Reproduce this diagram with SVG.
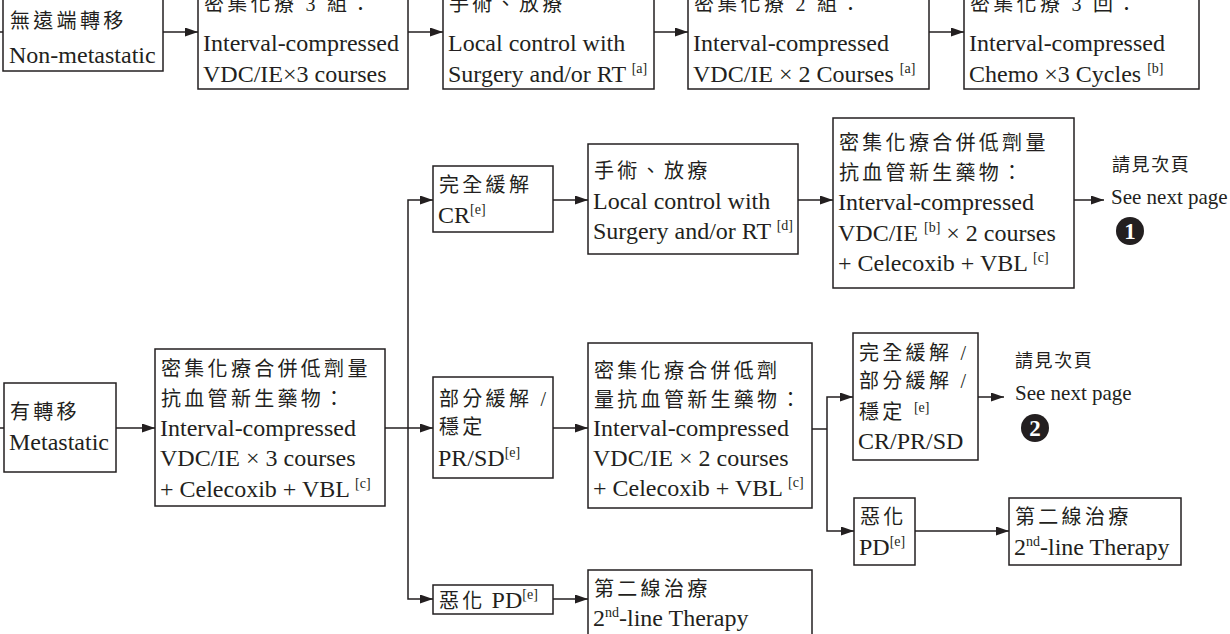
<svg xmlns="http://www.w3.org/2000/svg" width="1230" height="634" viewBox="0 0 1230 634">
  <style>
    .box { fill: #ffffff; stroke: #231f20; stroke-width: 1.5; }
    .ln { fill: none; stroke: #231f20; stroke-width: 1.5; }
    .arr { fill: none; stroke: #231f20; stroke-width: 1.5; marker-end: url(#head); }
    .t { font-family: "Liberation Serif", "Noto Sans CJK TC", serif; font-size: 24px; fill: #231f20; }
    .c { font-family: "Liberation Serif", "Noto Sans CJK TC", serif; font-size: 20px; letter-spacing: 3.3px; fill: #231f20; }
    .sup { font-size: 14px; }
    .nxt { font-family: "Liberation Serif", "Noto Sans CJK TC", serif; font-size: 21px; fill: #231f20; }
    .nxc { font-family: "Liberation Serif", "Noto Sans CJK TC", serif; font-size: 18px; letter-spacing: 1.6px; fill: #231f20; }
    .num { font-family: "Liberation Serif", serif; font-size: 23px; font-weight: bold; fill: #ffffff; text-anchor: middle; }
  </style>
  <defs>
    <marker id="head" markerWidth="13" markerHeight="9" refX="13" refY="4.5" orient="auto" markerUnits="userSpaceOnUse">
      <path d="M0,0 L13,4.5 L0,9 Z" fill="#231f20"/>
    </marker>
  </defs>

  <rect width="1230" height="634" fill="#ffffff"/>

  <!-- connectors -->
  <g id="connectors">
    <!-- non-metastatic row -->
    <line class="ln" x1="0" y1="32" x2="3" y2="32"/>
    <line class="arr" x1="163" y1="32" x2="198" y2="32"/>
    <line class="arr" x1="408" y1="32" x2="443" y2="32"/>
    <line class="arr" x1="654" y1="32" x2="688" y2="32"/>
    <line class="arr" x1="929" y1="32" x2="964" y2="32"/>

    <!-- metastatic trunk -->
    <line class="ln" x1="0" y1="428" x2="4" y2="428"/>
    <line class="arr" x1="116" y1="428" x2="155" y2="428"/>
    <line class="arr" x1="385" y1="428" x2="433" y2="428"/>
    <polyline class="arr" points="408,428 408,200 433,200"/>
    <polyline class="arr" points="408,428 408,599 433,599"/>

    <!-- CR branch -->
    <line class="arr" x1="553" y1="200" x2="588" y2="200"/>
    <line class="arr" x1="798" y1="200" x2="833" y2="200"/>
    <line class="arr" x1="1074" y1="200" x2="1104" y2="200"/>

    <!-- PR/SD branch -->
    <line class="arr" x1="553" y1="428" x2="588" y2="428"/>
    <line class="ln" x1="812" y1="429" x2="827" y2="429"/>
    <polyline class="arr" points="827,429 827,397 853,397"/>
    <polyline class="arr" points="827,429 827,531 854,531"/>
    <line class="arr" x1="978" y1="397" x2="1004" y2="397"/>
    <line class="arr" x1="915" y1="531" x2="1009" y2="531"/>

    <!-- PD branch -->
    <line class="arr" x1="553" y1="599" x2="588" y2="599"/>
  </g>

  <!-- non-metastatic row -->
  <g id="nonmeta">
    <rect class="box" x="3" y="-20" width="160" height="91"/>
    <text class="c" x="10" y="28">無遠端轉移</text>
    <text class="t" x="9" y="63">Non-metastatic</text>
  </g>
  <g id="chemo3">
    <rect class="box" x="198" y="-20" width="210" height="109"/>
    <text class="c" x="204" y="11">密集化療 3 組：</text>
    <text class="t" x="203" y="51">Interval-compressed</text>
    <text class="t" x="203" y="82">VDC/IE×3 courses</text>
  </g>
  <g id="local1">
    <rect class="box" x="443" y="-20" width="211" height="109"/>
    <text class="c" x="449" y="11">手術、放療</text>
    <text class="t" x="448" y="51">Local control with</text>
    <text class="t" x="448" y="82">Surgery and/or RT <tspan class="sup" dy="-9">[a]</tspan></text>
  </g>
  <g id="chemo2">
    <rect class="box" x="688" y="-20" width="241" height="109"/>
    <text class="c" x="694" y="11">密集化療 2 組：</text>
    <text class="t" x="693" y="51">Interval-compressed</text>
    <text class="t" x="693" y="82">VDC/IE × 2 Courses <tspan class="sup" dy="-9">[a]</tspan></text>
  </g>
  <g id="chemo3cycles">
    <rect class="box" x="964" y="-20" width="235" height="109"/>
    <text class="c" x="970" y="11">密集化療 3 回：</text>
    <text class="t" x="969" y="51">Interval-compressed</text>
    <text class="t" x="969" y="82">Chemo ×3 Cycles <tspan class="sup" dy="-9">[b]</tspan></text>
  </g>

  <!-- metastatic -->
  <g id="meta">
    <rect class="box" x="4" y="383" width="112" height="89"/>
    <text class="c" x="10" y="419">有轉移</text>
    <text class="t" x="9" y="450">Metastatic</text>
  </g>
  <g id="metachemo">
    <rect class="box" x="155" y="349" width="230" height="157"/>
    <text class="c" x="161" y="376">密集化療合併低劑量</text>
    <text class="c" x="161" y="406">抗血管新生藥物：</text>
    <text class="t" x="160" y="436">Interval-compressed</text>
    <text class="t" x="160" y="466">VDC/IE × 3 courses</text>
    <text class="t" x="160" y="497">+ Celecoxib + VBL <tspan class="sup" dy="-9">[c]</tspan></text>
  </g>

  <!-- complete response -->
  <g id="cr">
    <rect class="box" x="433" y="166" width="120" height="66"/>
    <text class="c" x="439" y="192">完全緩解</text>
    <text class="t" x="438" y="223">CR<tspan class="sup" dy="-9">[e]</tspan></text>
  </g>
  <g id="local2">
    <rect class="box" x="588" y="144" width="210" height="110"/>
    <text class="c" x="594" y="178">手術、放療</text>
    <text class="t" x="593" y="209">Local control with</text>
    <text class="t" x="593" y="239">Surgery and/or RT <tspan class="sup" dy="-9">[d]</tspan></text>
  </g>
  <g id="crchemo">
    <rect class="box" x="833" y="118" width="241" height="170"/>
    <text class="c" x="839" y="150">密集化療合併低劑量</text>
    <text class="c" x="839" y="180">抗血管新生藥物：</text>
    <text class="t" x="838" y="210">Interval-compressed</text>
    <text class="t" x="838" y="241">VDC/IE <tspan class="sup" dy="-9">[b]</tspan><tspan dy="9"> × 2 courses</tspan></text>
    <text class="t" x="838" y="271">+ Celecoxib + VBL <tspan class="sup" dy="-9">[c]</tspan></text>
  </g>
  <g id="next1">
    <text class="nxc" x="1112" y="171">請見次頁</text>
    <text class="nxt" x="1111" y="204">See next page</text>
    <circle cx="1130" cy="231" r="14" fill="#231f20"/>
    <text class="num" x="1130" y="239">1</text>
  </g>

  <!-- partial response / stable -->
  <g id="prsd">
    <rect class="box" x="433" y="377" width="120" height="101"/>
    <text class="c" x="439" y="406">部分緩解 /</text>
    <text class="c" x="439" y="434">穩定</text>
    <text class="t" x="438" y="466">PR/SD<tspan class="sup" dy="-9">[e]</tspan></text>
  </g>
  <g id="prsdchemo">
    <rect class="box" x="588" y="343" width="224" height="165"/>
    <text class="c" x="594" y="378">密集化療合併低劑</text>
    <text class="c" x="594" y="407">量抗血管新生藥物：</text>
    <text class="t" x="593" y="436">Interval-compressed</text>
    <text class="t" x="593" y="466">VDC/IE × 2 courses</text>
    <text class="t" x="593" y="496">+ Celecoxib + VBL <tspan class="sup" dy="-9">[c]</tspan></text>
  </g>
  <g id="crprsd">
    <rect class="box" x="853" y="333" width="125" height="127"/>
    <text class="c" x="859" y="360">完全緩解 /</text>
    <text class="c" x="859" y="388">部分緩解 /</text>
    <text class="c" x="859" y="419">穩定 <tspan class="sup" dy="-7" style="letter-spacing:0">[e]</tspan></text>
    <text class="t" x="858" y="449">CR/PR/SD</text>
  </g>
  <g id="next2">
    <text class="nxc" x="1015" y="367">請見次頁</text>
    <text class="nxt" x="1015" y="400">See next page</text>
    <circle cx="1035" cy="428" r="14" fill="#231f20"/>
    <text class="num" x="1035" y="436">2</text>
  </g>
  <g id="pd2">
    <rect class="box" x="854" y="498" width="61" height="67"/>
    <text class="c" x="860" y="524">惡化</text>
    <text class="t" x="859" y="555">PD<tspan class="sup" dy="-9">[e]</tspan></text>
  </g>
  <g id="second2">
    <rect class="box" x="1009" y="498" width="172" height="67"/>
    <text class="c" x="1015" y="524">第二線治療</text>
    <text class="t" x="1014" y="555">2<tspan class="sup" dy="-9">nd</tspan><tspan dy="9">-line Therapy</tspan></text>
  </g>

  <!-- progressive disease -->
  <g id="pd1">
    <rect class="box" x="433" y="585" width="120" height="29"/>
    <text class="t" x="439" y="608"><tspan class="c">惡化</tspan> PD<tspan class="sup" dy="-9">[e]</tspan></text>
  </g>
  <g id="second1">
    <rect class="box" x="588" y="570" width="224" height="90"/>
    <text class="c" x="594" y="596">第二線治療</text>
    <text class="t" x="593" y="626">2<tspan class="sup" dy="-9">nd</tspan><tspan dy="9">-line Therapy</tspan></text>
  </g>
</svg>
